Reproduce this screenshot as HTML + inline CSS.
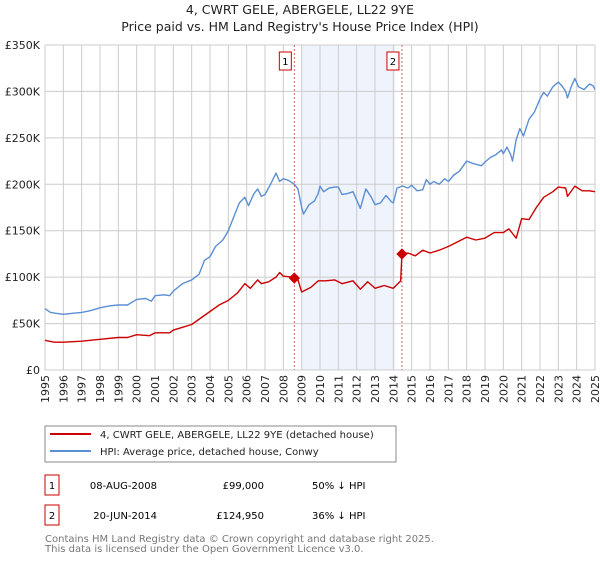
<!DOCTYPE html>
<html><head><meta charset="utf-8"><style>
body{margin:0;background:#fff;font-family:"Liberation Sans","DejaVu Sans",sans-serif;}
svg text{font-family:"DejaVu Sans","Liberation Sans",sans-serif;}
</style></head><body>
<svg id="c" width="600" height="560" xmlns="http://www.w3.org/2000/svg">
<text x="300" y="14" text-anchor="middle" font-size="12.5" fill="#222">4, CWRT GELE, ABERGELE, LL22 9YE</text>
<text x="300" y="31" text-anchor="middle" font-size="12.5" fill="#222">Price paid vs. HM Land Registry's House Price Index (HPI)</text>
<g id="plot"></g>
<rect x="45" y="426" width="351" height="36" fill="#fff" stroke="#888"/>
<line x1="50" y1="434" x2="91" y2="434" stroke="#cc0000" stroke-width="2"/>
<text x="100" y="438" font-size="10" fill="#222">4, CWRT GELE, ABERGELE, LL22 9YE (detached house)</text>
<line x1="50" y1="451" x2="91" y2="451" stroke="#5b8fd4" stroke-width="2"/>
<text x="100" y="455" font-size="10" fill="#222">HPI: Average price, detached house, Conwy</text>
<rect x="45" y="475" width="14" height="20" fill="#fff" stroke="#cc0000"/>
<text x="52" y="489" text-anchor="middle" font-size="10">1</text>
<text x="157" y="489" text-anchor="end" font-size="10">08-AUG-2008</text>
<text x="264" y="489" text-anchor="end" font-size="10">£99,000</text>
<text x="312" y="489" font-size="10">50% ↓ HPI</text>
<rect x="45" y="505" width="14" height="20" fill="#fff" stroke="#cc0000"/>
<text x="52" y="519" text-anchor="middle" font-size="10">2</text>
<text x="157" y="519" text-anchor="end" font-size="10">20-JUN-2014</text>
<text x="264" y="519" text-anchor="end" font-size="10">£124,950</text>
<text x="312" y="519" font-size="10">36% ↓ HPI</text>
<text x="45" y="542" font-size="10" fill="#777">Contains HM Land Registry data © Crown copyright and database right 2025.</text>
<text x="45" y="552" font-size="10" fill="#777">This data is licensed under the Open Government Licence v3.0.</text>
</svg>
<script>
const hpiX=[1995.0,1995.3,1995.6,1996,1996.5,1997,1997.5,1998,1998.5,1999,1999.5,2000,2000.5,2000.8,2001,2001.5,2001.8,2002,2002.5,2003,2003.4,2003.7,2004,2004.3,2004.7,2005,2005.3,2005.6,2005.9,2006.1,2006.4,2006.6,2006.8,2007,2007.3,2007.6,2007.8,2008,2008.3,2008.6,2008.8,2009,2009.1,2009.4,2009.7,2009.9,2010,2010.2,2010.5,2010.8,2011,2011.2,2011.5,2011.8,2012,2012.2,2012.5,2012.8,2013,2013.3,2013.6,2013.9,2014,2014.2,2014.5,2014.8,2015,2015.3,2015.6,2015.8,2016,2016.2,2016.5,2016.8,2017,2017.3,2017.6,2018,2018.4,2018.8,2019,2019.3,2019.6,2019.9,2020,2020.2,2020.4,2020.5,2020.7,2020.9,2021.1,2021.4,2021.7,2022,2022.2,2022.4,2022.7,2023,2023.2,2023.4,2023.5,2023.7,2023.9,2024.1,2024.4,2024.7,2024.9,2025];
const hpiV=[66,62,61,60,61,62,64,67,69,70,70,76,77,74,80,81,80,85,93,97,103,118,122,133,140,150,165,180,186,177,190,195,187,189,200,212,203,206,204,200,195,175,168,178,182,190,198,192,196,197,197,189,190,192,183,174,195,186,178,180,188,181,180,196,198,196,199,193,194,205,200,203,200,206,203,210,214,225,222,220,224,229,232,237,233,240,232,225,248,260,252,270,278,292,299,295,305,310,306,300,293,305,314,305,302,308,306,302];
const redX=[1995.0,1995.5,1996,1997,1998,1999,1999.5,2000,2000.7,2001,2001.8,2002,2002.5,2003,2003.5,2004,2004.5,2005,2005.5,2005.9,2006.2,2006.6,2006.8,2007.2,2007.6,2007.8,2008,2008.6,2008.8,2009.0,2009.5,2009.9,2010.3,2010.8,2011.2,2011.8,2012.2,2012.6,2013,2013.5,2014.0,2014.4,2014.47,2014.8,2015.2,2015.6,2016,2016.5,2017,2017.5,2018,2018.5,2019,2019.5,2020,2020.3,2020.5,2020.7,2021,2021.4,2021.8,2022.2,2022.7,2023,2023.4,2023.5,2023.9,2024.3,2024.7,2025];
const redV=[32,30,30,31,33,35,35,38,37,40,40,43,46,49,56,63,70,75,83,93,88,97,93,95,100,105,101,100,97,84,89,96,96,97,93,96,87,95,88,91,88,96,124.95,126,123,129,126,129,133,138,143,140,142,148,148,152,147,142,163,162,175,186,192,197,196,187,198,193,193,192];
const years=[];for(let y=1995;y<=2025;y++)years.push(y);
const yTicks=[0,50,100,150,200,250,300,350];
const sales=[{x:2008.6,v:99,n:"1"},{x:2014.47,v:124.95,n:"2"}];
const L=45,R=595,T=45,B=370;
const sx=y=>L+(y-1995)/(2025-1995)*(R-L);
const sy=v=>B-v/350*(B-T);
const NS="http://www.w3.org/2000/svg";
const g=document.getElementById('plot');
function mk(t,a){const e=document.createElementNS(NS,t);for(const k in a)e.setAttribute(k,a[k]);g.appendChild(e);return e;}
let e=mk('rect',{x:sx(2009.0),y:T,width:sx(2014.1)-sx(2009.0),height:B-T,fill:'#eef3fc'});


years.forEach(y=>{const l=mk('line',{x1:sx(y),x2:sx(y),y1:T,y2:B,stroke:'#ccc'});


const t=mk('text',{x:0,y:0,'font-size':11,fill:'#222','text-anchor':'end',transform:`translate(${sx(y)+4},${B+5}) rotate(-90)`});t.textContent=y;

});
yTicks.forEach(v=>{const l=mk('line',{x1:L,x2:R,y1:sy(v),y2:sy(v),stroke:'#ccc'});


const t=mk('text',{x:L-5,y:sy(v)+4,'font-size':11,fill:'#222','text-anchor':'end'});t.textContent=v===0?'£0':'£'+v+'K';

});
sales.forEach(s=>{const l=mk('line',{x1:sx(s.x),x2:sx(s.x),y1:T,y2:B,stroke:'#e06060','stroke-dasharray':'2,2'});


const r=mk('rect',{x:sx(s.x)-15,y:52,width:12,height:18,fill:'#fff',stroke:'#cc0000'});


const t=mk('text',{x:sx(s.x)-9,y:65,'font-size':10,'text-anchor':'middle'});t.textContent=s.n;

});
function line(X,V,c,n){const p=mk('polyline',{points:X.map((x,i)=>sx(x)+','+sy(V[i])).join(' '),fill:'none',stroke:c,'stroke-width':1.4,'stroke-linejoin':'round'});

}
line(hpiX,hpiV,'#5b8fd4','hpi-line');
line(redX,redV,'#cc0000','price-paid-line');
sales.forEach(s=>{const d=mk('rect',{x:sx(s.x)-4,y:sy(s.v)-4,width:8,height:8,fill:'#cc0000',transform:`rotate(45 ${sx(s.x)} ${sy(s.v)})`});

});
</script>
</body></html>
